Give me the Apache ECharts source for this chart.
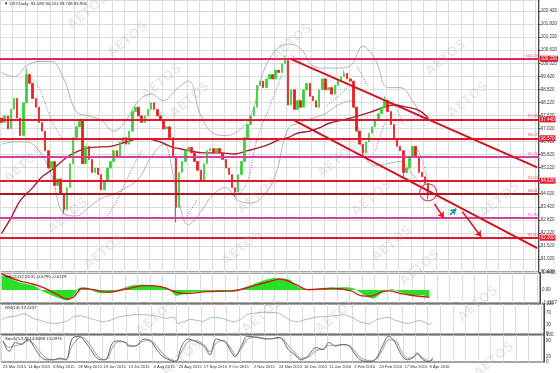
<!DOCTYPE html>
<html><head><meta charset="utf-8">
<script src="https://cdn.jsdelivr.net/npm/echarts@6/dist/echarts.min.js"></script>
<style>html,body{margin:0;padding:0;background:#fff}#c{width:560px;height:373px}</style>
</head><body><div id="c"></div>
<script>
// ---------- data (one candle = 2 trading days) ----------
const dateLabels = ["23 Mar 2015","14 Apr 2015","6 May 2015","28 May 2015","19 Jun 2015","13 Jul 2015","4 Aug 2015","26 Aug 2015","17 Sep 2015","9 Oct 2015","2 Nov 2015","24 Nov 2015","16 Dec 2015","11 Jan 2016","2 Feb 2016","24 Feb 2016","17 Mar 2016","8 Apr 2016"];
const firstOpen = 97.5;
const closes = [
 97.3,97.6,97.0,97.9,98.4,97.5,96.7,98.2,99.5,99.1,
 98.4,98.0,97.3,96.9,96.0,95.2,95.5,94.4,94.7,94.0,
 93.3,94.3,95.4,96.6,97.1,97.4,95.4,96.2,95.6,95.0,
 95.2,94.9,94.2,94.6,95.2,95.5,96.0,95.7,96.4,96.6,
 96.3,96.9,97.8,98.0,97.6,97.3,97.6,97.9,98.2,97.9,
 97.6,97.4,97.0,97.1,96.6,95.7,93.4,95.0,95.5,96.0,
 96.15,95.9,95.5,95.1,94.6,95.4,96.0,96.1,95.9,96.1,
 95.9,95.6,95.2,94.9,94.3,94.1,94.9,95.5,96.6,97.2,
 97.6,98.0,99.0,99.2,98.9,99.3,99.5,99.3,99.7,99.6,
 100.0,100.15,98.1,98.8,97.9,98.3,98.0,98.8,99.1,98.5,
 98.3,98.0,98.8,99.3,98.8,98.9,98.6,99.0,99.2,99.4,
 99.55,99.3,99.2,98.0,96.9,96.3,95.9,96.4,96.8,97.1,
 97.4,97.7,98.0,98.3,97.8,97.2,96.5,96.2,96.0,95.0,
 95.2,95.7,96.2,95.7,95.0,94.8,94.5,93.956];
const wickLowSlots = [20,56,75,116,129,137];
const wickLowValues = [93.1,92.7,93.9,95.7,94.7,93.748];
const wickHighSlots = [8,91,110,123];
const wickHighValues = [99.8,100.4,99.7,98.5];

const maSlots = [0,3,6,10,13,16,21,25,29,35,40,44,46,51,55,57,60,65,70,75,79,83,86,89,92,95,99,102,105,112,118,123,126,130,134,137];
const maValues = [92.2,92.9,93.7,94.3,94.8,95.1,95.7,96.0,96.15,96.2,96.4,96.55,96.55,96.4,96.15,96.1,96.0,95.9,95.9,95.85,96.0,96.15,96.3,96.5,96.6,96.8,96.9,97.05,97.25,97.5,97.75,98.0,98.1,98.0,97.85,97.5];

const bandSlots = [0,4,8,12,16,20,24,28,32,36,40,44,48,52,56,60,64,68,72,76,80,84,88,92,96,100,104,108,112,116,120,124,128,132,136,137];
const upperBand = [99.6,99.4,99.9,100.1,100.1,99.3,97.8,97.6,97.4,96.9,97.4,98.3,98.6,98.3,98.8,99.2,97.6,96.8,96.7,96.9,97.6,99.6,100.6,100.9,100.7,99.9,99.8,99.8,99.9,100.8,100.2,98.9,98.9,98.3,97.4,97.4];
const lowerBand = [96.3,96.4,96.4,96.0,94.9,93.1,93.0,93.4,93.8,94.0,94.3,94.7,95.7,96.3,94.3,92.6,93.2,94.0,94.3,93.7,93.6,93.9,94.9,97.0,97.3,97.5,97.7,98.1,98.3,96.0,95.3,95.4,95.5,94.9,94.2,94.0];

// dotted trails (null = break)
const sarSlots = [10,12,14,16,18,20,null,34,37,40,43,45,null,59,61,63,null,75,79,82,86,90,null,93,95,97,null,104,108,111,null,114,116,118,null,120,123,null,125,127,129,null,133,135,137];
const sarValues = [99.3,98.9,98.2,97.4,96.9,96.4,null,93.0,93.7,94.6,95.5,96.0,null,92.9,93.3,93.8,null,93.8,94.6,96.5,98.0,99.5,null,100.4,100.2,100.0,null,98.0,98.5,98.9,null,99.9,99.4,98.9,null,96.0,97.25,null,98.4,97.9,97.2,null,96.2,95.6,94.6];

const levels = [100.23,97.44,96.57,95.71,94.62,94.01,92.90,92.00];
const bidPrice = 93.956;
const channelUpper = [[93,100.21],[172,95.23]];
const channelLower = [[94,97.39],[172,91.52]];
const circlePoint = [137,94.08];
const arrowRed1 = [[139,93.56],[142,92.91]];
const arrowTeal = [[144,93.05],[146,93.33]];
const arrowRed2 = [[148,93.19],[154,92.04]];

const macdSlots = [0,3,6,10,12,14,17,20,21,23,25,28,30,32,35,38,42,46,50,54,56,58,62,66,70,74,77,81,85,88,89,92,95,98,102,106,110,113,117,119,122,125,128,131,135,137];
const macdValues = [1.22,0.94,0.6,0.37,0.08,-0.2,-0.54,-0.82,-0.88,-0.48,0.17,0.08,-0.14,-0.26,-0.14,0.03,0.37,0.42,0.31,0.03,-0.48,-0.34,-0.14,-0.11,-0.08,-0.14,0.08,0.51,0.88,1.0,0.94,0.88,0.23,0.03,0.08,0.14,0.2,0.08,-0.54,-0.7,-0.2,0.03,-0.2,-0.42,-0.42,-0.68];
const signalSlots = [0,6,10,14,18,21,23,26,30,34,40,46,51,56,59,66,74,81,88,89,95,98,106,112,115,118,122,124,128,131,137];
const signalValues = [1.36,0.75,0.51,0.14,-0.42,-0.77,-0.62,0.14,0.0,-0.2,0.08,0.37,0.28,-0.2,-0.31,-0.14,-0.08,0.37,0.88,0.94,0.37,0.03,0.14,-0.08,-0.48,-0.54,-0.14,-0.08,-0.31,-0.45,-0.61];

const rsiSlots = [0,2,5,7,10,12,15,17,20,21,23,25,28,30,32,34,38,42,46,49,52,55,56,58,60,64,67,70,74,76,78,81,84,88,89,92,94,96,100,103,106,109,112,114,117,119,121,123,125,127,129,131,133,136,137];
const rsiValues = [48.8,55.9,60.7,67.9,52.4,46.4,36.9,34.5,40.5,44,58.3,60.7,52.4,46.4,40.5,44,58.3,64.3,64.3,60.7,52.4,55.9,34.5,40.5,48.8,42,55.9,52.4,40,48.8,64.3,70.2,72.6,70.2,64.3,45,40.5,46.4,55.9,58.3,60.7,64.3,52.4,40.5,34.5,46.4,52.4,55.9,46.4,40.5,34.5,40.5,45,32.1,37.24];

const stochSlots = [0,2,4,6,8,10,12,14,16,18,20,22,24,25,28,30,32,33,35,37,39,40,42,45,47,49,51,53,55,57,59,61,64,66,68,70,71,73,74,76,78,81,84,86,88,89,91,93,95,97,100,102,104,106,108,110,112,114,117,119,121,123,125,127,129,131,132,134,136,137];
const stochMain = [78,40,72,65,85,53,20,8,8,14,8,85,95,91,46,14,8,11,72,78,72,59,59,85,78,46,20,8,1,59,85,78,59,27,85,78,72,33,20,59,95,91,85,87,91,85,46,27,8,20,53,46,72,59,65,62,33,8,1,14,59,95,72,27,8,20,33,8,1,14.8];
const stochSignal = [80,55,60,68,78,65,35,14,9,11,10,60,88,92,60,25,10,10,55,75,74,63,59,78,80,58,30,12,4,40,75,80,65,38,70,80,75,45,25,50,85,92,87,86,89,87,60,35,14,17,43,48,62,62,63,63,43,17,5,10,45,83,80,40,14,17,28,14,4,15.1];

// ---------- build ----------
const N = 173;
const categories = Array.from({length:N},(_,i)=>String(i));
const candleData = closes.map((c,i)=>{
  const o = i===0 ? firstOpen : closes[i-1];
  let lo = Math.min(o,c), hi = Math.max(o,c);
  const li = wickLowSlots.indexOf(i); if (li>=0) lo = Math.min(lo, wickLowValues[li]);
  const hiI = wickHighSlots.indexOf(i); if (hiI>=0) hi = Math.max(hi, wickHighValues[hiI]);
  return [o,c,lo,hi];
});
const pairs = (xs,ys)=>xs.map((x,i)=>[x,ys[i]]);
const sarSegments = []; let cur = [];
sarSlots.forEach((s,i)=>{ if(s===null){ if(cur.length) sarSegments.push(cur); cur=[]; } else cur.push([s,sarValues[i]]); });
if(cur.length) sarSegments.push(cur);

const NARROW = '"Liberation Sans Narrow", "Liberation Sans", Arial, sans-serif';
const RED='#e3162c', MAG='#d43f9e', PINK='#e8245a', DARK='#b01420';
const levelColor = [PINK,RED,RED,MAG,RED,DARK,MAG,RED];
const levelTag = [true,true,true,false,true,false,false,true];

const markItems = [];
levels.forEach((v,i)=>{
  markItems.push({yAxis:v, lineStyle:{color:levelColor[i], width:2, type:'solid'},
    label:{show:levelTag[i], position:'end', formatter:v.toFixed(3), backgroundColor:RED, color:'#fff', fontSize:4.5, fontFamily:NARROW, padding:[1,1,0,1], distance:1}});
  markItems.push({yAxis:v, lineStyle:{opacity:0},
    label:{show:true, position:'insideEndTop', formatter:v.toFixed(2), color:levelColor[i], fontSize:4, fontFamily:NARROW, distance:1, opacity:0.8}});
});
markItems.push({yAxis:bidPrice, lineStyle:{opacity:0},
  label:{show:true, position:'end', formatter:bidPrice.toFixed(3), backgroundColor:'#111', color:'#fff', fontSize:4.5, fontFamily:NARROW, padding:[1,1,0,1], distance:1}});
const seg = (p,color,w,arrow)=>[{coord:p[0], lineStyle:{color,width:w,type:'solid'}, symbol:'none'},{coord:p[1], symbol: arrow?'arrow':'none', symbolSize: arrow?6:0}];
markItems.push(seg(channelUpper,'#d0121f',2,false));
markItems.push(seg(channelLower,'#d0121f',2,false));
markItems.push(seg(arrowRed1,'#e0141e',1.5,true));
markItems.push(seg(arrowTeal,'#139c9c',1.8,true));
markItems.push(seg(arrowRed2,'#e0141e',1.5,true));

const grids = [
  {left:0,right:16,top:0,height:272},
  {left:0,right:16,top:273,height:30},
  {left:0,right:16,top:304,height:30},
  {left:0,right:16,top:335,height:27}
].map(g=>Object.assign(g,{show:true,borderColor:'#4a4a4a',borderWidth:1.2,containLabel:false}));

const gridLineColor = '#dcdcdc';
const xAxes = grids.map((g,gi)=>({
  type:'category', gridIndex:gi, data:categories, boundaryGap:true,
  axisLine:{show:false}, axisTick:{show:false},
  axisLabel:{show: gi===3, interval:(idx)=> idx%8===0 && idx/8<dateLabels.length,
    showMinLabel:true, hideOverlap:false,
    formatter:(v,idx)=> dateLabels[idx/8] || '', align:'left', fontSize:4.1, color:'#333', fontFamily:NARROW, margin:3},
  splitLine:{show:true, interval:(idx)=> idx%4===0, lineStyle:{color:gridLineColor,width:1}}
}));
const yLab = {fontSize:4.5, color:'#333', fontFamily:NARROW, margin:2};
const yAxes = [
  {type:'value', gridIndex:0, position:'right', min:90.42, max:102.93, interval:0.6, scale:true,
   axisLine:{show:true,lineStyle:{color:'#4a4a4a'}}, axisTick:{show:true,length:2,lineStyle:{color:'#4a4a4a'}},
   axisLabel:Object.assign({formatter:v=>v.toFixed(3), showMaxLabel:false}, yLab),
   splitLine:{show:true,lineStyle:{color:gridLineColor,width:1}}},
  {type:'value', gridIndex:1, position:'right', min:-1.1127, max:1.4456,
   axisLine:{show:true,lineStyle:{color:'#4a4a4a'}}, axisTick:{show:false},
   axisLabel:Object.assign({customValues:[-1.1127,0,1.4456], formatter:v=> v===0?'0.00':v.toFixed(4)}, yLab),
   splitLine:{show:false}},
  {type:'value', gridIndex:2, position:'right', min:0, max:100,
   axisLine:{show:true,lineStyle:{color:'#4a4a4a'}}, axisTick:{show:false},
   axisLabel:Object.assign({customValues:[0,30,70,100]}, yLab), splitLine:{show:false}},
  {type:'value', gridIndex:3, position:'right', min:0, max:100,
   axisLine:{show:true,lineStyle:{color:'#4a4a4a'}}, axisTick:{show:false},
   axisLabel:Object.assign({customValues:[0,20,80,100]}, yLab), splitLine:{show:false}}
];

const series = [
  {type:'line', xAxisIndex:0, yAxisIndex:0, data:pairs(bandSlots,upperBand), smooth:0.4, symbol:'none', lineStyle:{color:'#9aa3a3',width:0.8}, z:2},
  {type:'line', xAxisIndex:0, yAxisIndex:0, data:pairs(bandSlots,lowerBand), smooth:0.4, symbol:'none', lineStyle:{color:'#9aa3a3',width:0.8}, z:2},
  ...sarSegments.map(s=>({type:'line', xAxisIndex:0, yAxisIndex:0, data:s, smooth:0.3, symbol:'none', lineStyle:{color:'#7c7c7c',width:1,type:[1,1.5]}, z:2})),
  {type:'line', xAxisIndex:0, yAxisIndex:0, data:pairs(maSlots,maValues), smooth:0.4, symbol:'none', lineStyle:{color:'#a31c2e',width:1.4}, z:3},
  {type:'candlestick', xAxisIndex:0, yAxisIndex:0, data:candleData, barWidth:2, z:4,
   itemStyle:{color:'#3ccf3c', color0:'#e8201c', borderColor:'#3ccf3c', borderColor0:'#e8201c', borderWidth:0.8},
   markLine:{silent:true, symbol:['none','none'], animation:false, precision:3, data:markItems}},
  {type:'scatter', xAxisIndex:0, yAxisIndex:0, data:[circlePoint], symbol:'circle', symbolSize:17, z:6,
   itemStyle:{color:'rgba(0,0,0,0)', borderColor:'#cf2030', borderWidth:1.2}},
  {type:'line', xAxisIndex:1, yAxisIndex:1, data:pairs(macdSlots,macdValues), smooth:0.3, symbol:'none',
   lineStyle:{color:'#1fdc1f',width:0.6}, areaStyle:{color:'#28e028',opacity:1,origin:0}},
  {type:'line', xAxisIndex:1, yAxisIndex:1, data:pairs(signalSlots,signalValues), smooth:0.4, symbol:'none',
   lineStyle:{color:'#d21a1a',width:1.4}},
  {type:'line', xAxisIndex:2, yAxisIndex:2, data:pairs(rsiSlots,rsiValues), smooth:0.2, symbol:'none',
   lineStyle:{color:'#93b6c6',width:0.9}},
  {type:'line', xAxisIndex:3, yAxisIndex:3, data:pairs(stochSlots,stochSignal), smooth:0.4, symbol:'none',
   lineStyle:{color:'#b3b3b3',width:1.2}},
  {type:'line', xAxisIndex:3, yAxisIndex:3, data:pairs(stochSlots,stochMain), smooth:0.4, symbol:'none',
   lineStyle:{color:'#666',width:1}}
];

const titleStyle = {fontSize:4.3, color:'#222', fontWeight:'normal', fontFamily:NARROW};
const titles = [
  {text:'▼ DXY,Daily  94.189 94.241 93.748 93.956', left:4, top:2},
  {text:'MACD(12,26,9) -0.6795 -0.6129', left:5, top:275},
  {text:'RSI(14) 37.2437', left:5, top:306},
  {text:'Stoch(5,3,3) 14.8088 15.0976', left:5, top:337}
].map(t=>Object.assign(t,{padding:0, textStyle:titleStyle}));

const wm = [[88,12],[128,40],[162,82],[292,42],[446,58],[468,100],[190,100],[24,165],[338,160],[68,216],[258,196],[372,198],[392,244],[242,248],[104,252],[156,318],[262,316],[420,268],[478,304],[336,316],[182,358],[494,360],[500,200]];
const graphic = wm.map(([x,y])=>({type:'text', x, y, rotation:40*Math.PI/180, silent:true, z:100,
  style:{text:'AETOS', font:'bold 13px "DejaVu Sans"', fill:'rgba(170,170,170,0.22)', align:'center', verticalAlign:'middle'}}));

const chart = echarts.init(document.getElementById('c'), null, {renderer:'canvas', width:560, height:373});
chart.setOption({animation:false, backgroundColor:'#fff', title:titles, grid:grids, xAxis:xAxes, yAxis:yAxes, series, graphic});
</script></body></html>
